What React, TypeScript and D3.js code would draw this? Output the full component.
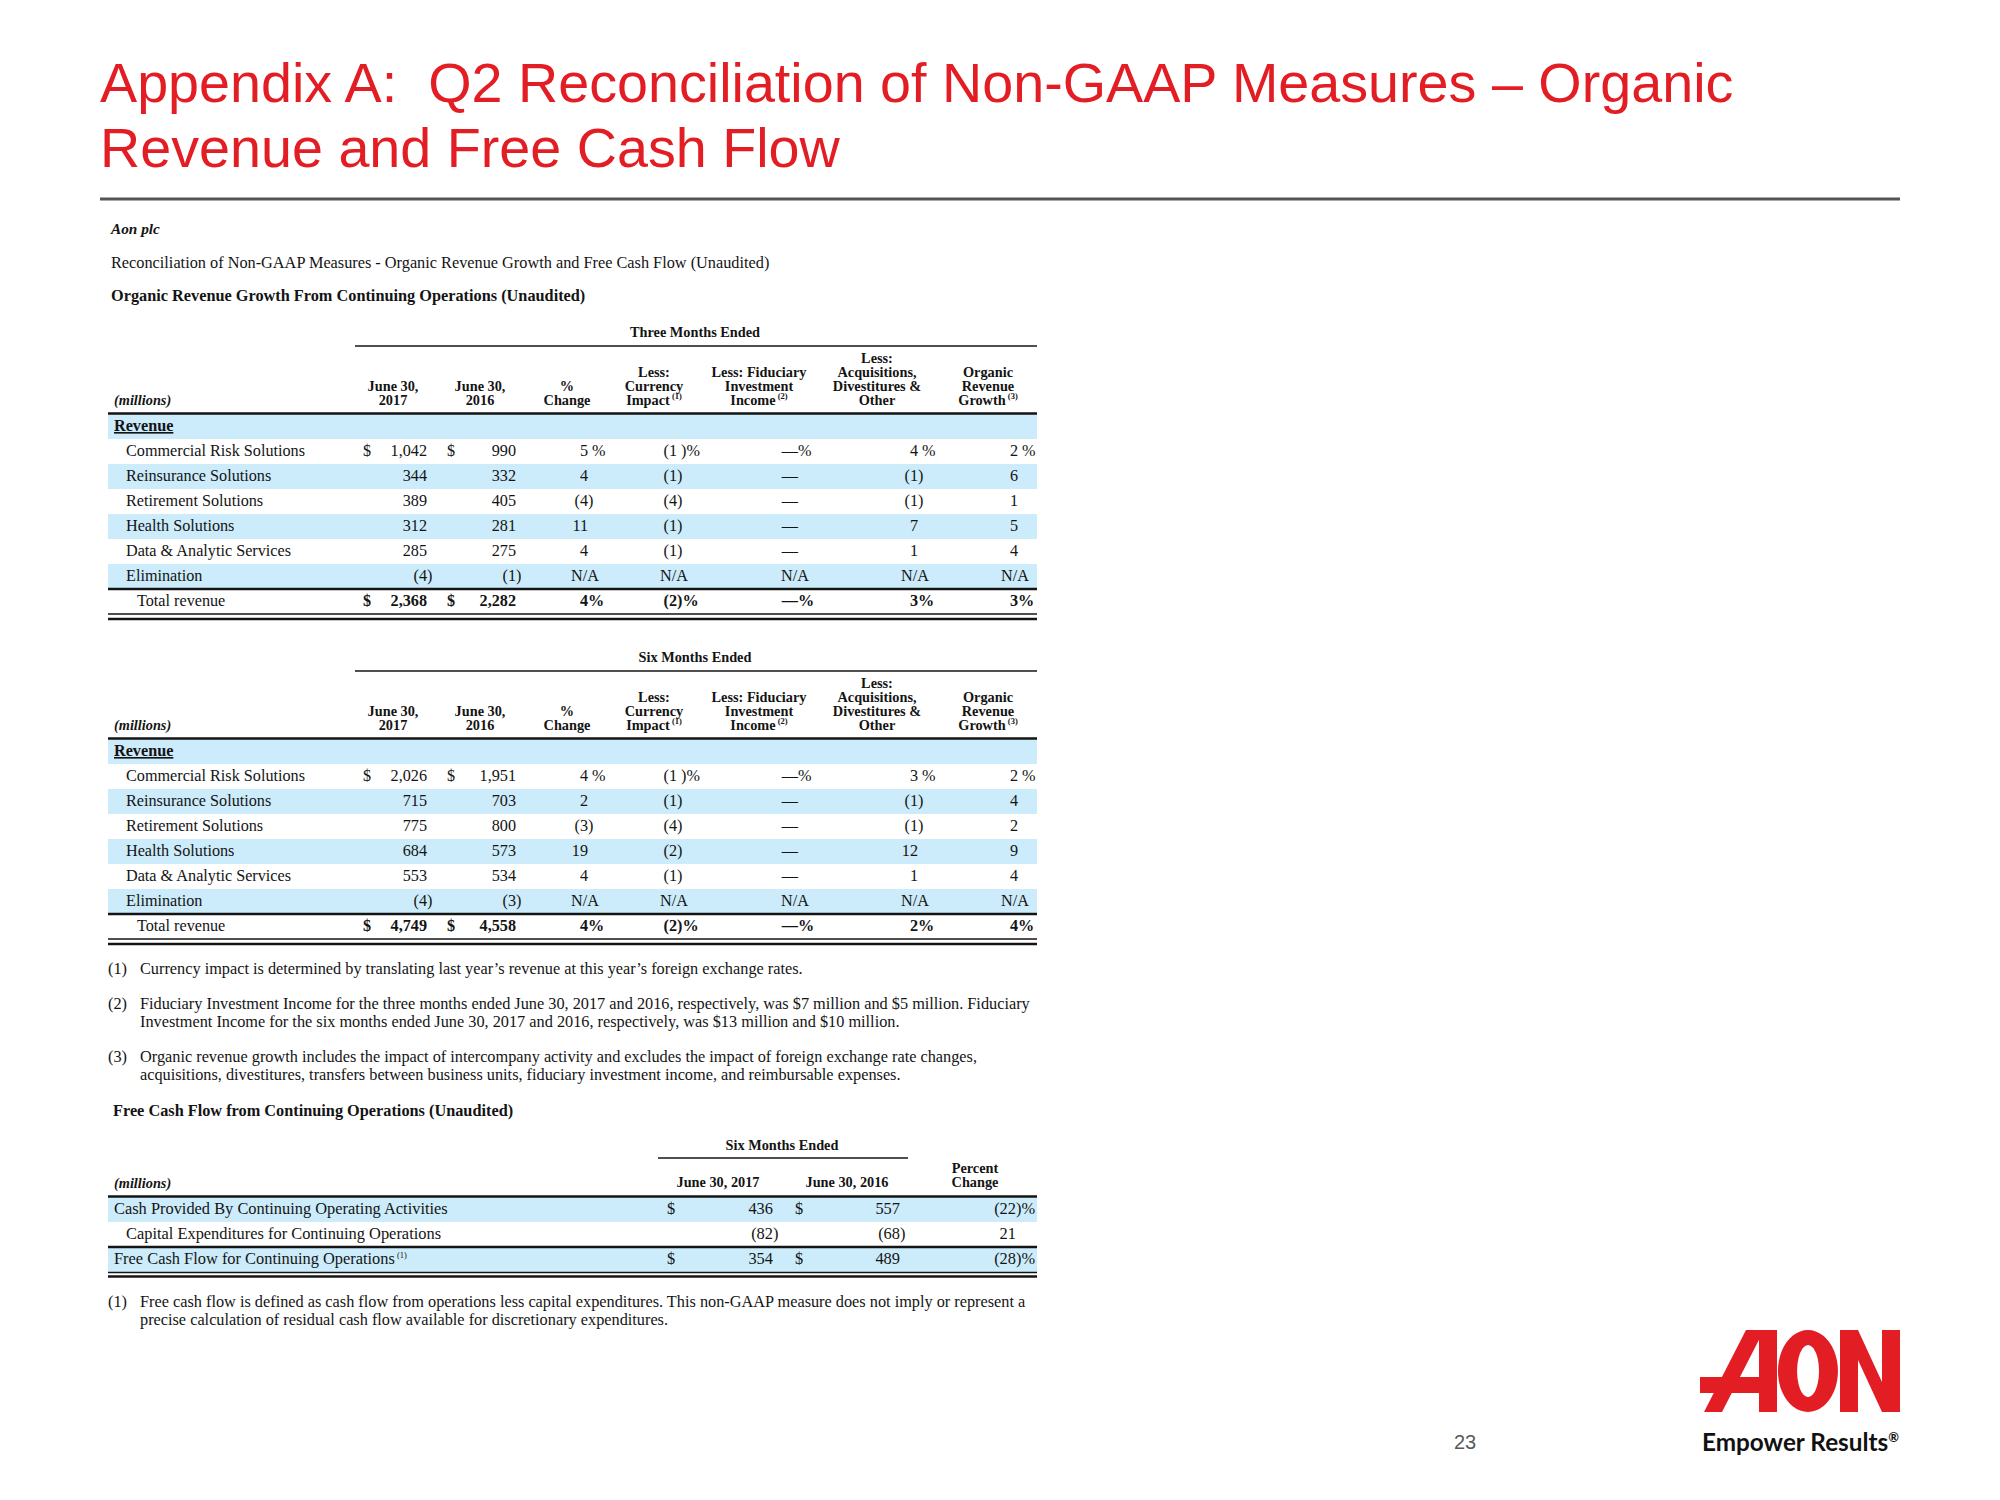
import React from "react";
import * as d3 from "d3";

// ---- data ----
const segments = [
  "Commercial Risk Solutions",
  "Reinsurance Solutions",
  "Retirement Solutions",
  "Health Solutions",
  "Data & Analytic Services",
  "Elimination",
];

// three months ended (last value in each list is the total row)
const q2017 = [1042, 344, 389, 312, 285, -4, 2368];
const q2016 = [990, 332, 405, 281, 275, -1, 2282];
const qChange = [5, 4, -4, 11, 4, null, 4];
const qCurrency = [-1, -1, -4, -1, -1, null, -2];
const qFiduciary = [0, 0, 0, 0, 0, null, 0];
const qAcquisitions = [4, -1, -1, 7, 1, null, 3];
const qOrganic = [2, 6, 1, 5, 4, null, 3];

// six months ended
const h2017 = [2026, 715, 775, 684, 553, -4, 4749];
const h2016 = [1951, 703, 800, 573, 534, -3, 4558];
const hChange = [4, 2, -3, 19, 4, null, 4];
const hCurrency = [-1, -1, -4, -2, -1, null, -2];
const hFiduciary = [0, 0, 0, 0, 0, null, 0];
const hAcquisitions = [3, -1, -1, 12, 1, null, 2];
const hOrganic = [2, 4, 2, 9, 4, null, 4];

const revHeaders = [
  ["June 30,", "2017"],
  ["June 30,", "2016"],
  ["%", "Change"],
  ["Less:", "Currency", "Impact|1"],
  ["Less: Fiduciary", "Investment", "Income|2"],
  ["Less:", "Acquisitions,", "Divestitures &", "Other"],
  ["Organic", "Revenue", "Growth|3"],
];

const fcfLabels = [
  "Cash Provided By Continuing Operating Activities",
  "Capital Expenditures for Continuing Operations",
  "Free Cash Flow for Continuing Operations",
];
const fcf2017 = [436, -82, 354];
const fcf2016 = [557, -68, 489];
const fcfChange = [-22, 21, -28];

const footnotes = [
  ["(1)", ["Currency impact is determined by translating last year\u2019s revenue at this year\u2019s foreign exchange rates."]],
  ["(2)", [
    "Fiduciary Investment Income for the three months ended June 30, 2017 and 2016, respectively, was $7 million and $5 million. Fiduciary",
    "Investment Income for the six months ended June 30, 2017 and 2016, respectively, was $13 million and $10 million.",
  ]],
  ["(3)", [
    "Organic revenue growth includes the impact of intercompany activity and excludes the impact of foreign exchange rate changes,",
    "acquisitions, divestitures, transfers between business units, fiduciary investment income, and reimbursable expenses.",
  ]],
];
const fcfNote = [
  "Free cash flow is defined as cash flow from operations less capital expenditures. This non-GAAP measure does not imply or represent a",
  "precise calculation of residual cash flow available for discretionary expenditures.",
];

// ---- styles ----
const RED = "#e31d24";
const BAND = "#ccecfb";
const INK = "#141414";
const SERIF = "'Liberation Serif', 'Times New Roman', serif";
const SANS = "'Liberation Sans', Arial, sans-serif";
const NOTE = 16.3;
const fmt = d3.format(",");

const colKeys = ["v2017", "v2016", "change", "currency", "fiduciary", "acq", "organic"];
const colRight = d3.scaleOrdinal<string, number>().domain(colKeys).range([427, 516, 588, 677, 798, 918, 1018]);
const colCenter = d3.scaleOrdinal<string, number>().domain(colKeys).range([393, 480, 567, 654, 759, 877, 988]);

function Sup({ n }: { n: string }) {
  return (
    <tspan fontSize={8.5} dy={-6}>
      {` (${n})`}
    </tspan>
  );
}

function HeaderLine({ s, x, y }: { s: string; x: number; y: number }) {
  const [t, n] = s.split("|");
  return (
    <text x={x} y={y} textAnchor="middle" fontWeight="bold" fontSize={14.3}>
      {t}
      {n && <Sup n={n} />}
    </text>
  );
}

function Cell({ v, kind, pos, R }: { v: number | null; kind: string; pos: string; R: number }) {
  if (v === null) {
    return (
      <text x={R + 11} textAnchor="end">
        N/A
      </text>
    );
  }
  let core: string;
  let suffix = "";
  let gap = 0;
  if (kind === "money") {
    core = v < 0 ? `(${fmt(-v)}` : fmt(v);
    if (v < 0) suffix = ")";
  } else {
    core = v === 0 ? "\u2014" : v < 0 ? `(${-v}` : `${v}`;
    if (v < 0) suffix = ")";
    if (pos === "first") {
      if (v !== 0) gap = 4;
      suffix += "%";
    } else if (pos === "total") suffix += "%";
  }
  return (
    <g>
      <text x={R} textAnchor="end">
        {core}
      </text>
      {suffix && (
        <text x={R + gap} textAnchor="start">
          {suffix}
        </text>
      )}
    </g>
  );
}

function RevenueTable({ dy, title, cols }: { dy: number; title: string; cols: (number | null)[][] }) {
  const rows = ["Revenue", ...segments, "Total revenue"];
  const y = d3.scaleBand<string>().domain(rows).range([414 + dy, 414 + dy + rows.length * 25]);
  const bh = y.bandwidth();
  const banded = ["Revenue", segments[1], segments[3], segments[5]];
  const left = 108;
  const right = 1037;
  return (
    <g fontFamily={SERIF} fill={INK} fontSize={16.2}>
      <text x={695} y={337 + dy} textAnchor="middle" fontWeight="bold" fontSize={14.3}>
        {title}
      </text>
      <line x1={355} x2={right} y1={346 + dy} y2={346 + dy} stroke={INK} strokeWidth={1.5} />
      {revHeaders.map((lines, i) =>
        lines.map((s, j) => (
          <HeaderLine key={`${i}-${j}`} s={s} x={colCenter(colKeys[i])} y={405 + dy - (lines.length - 1 - j) * 14} />
        ))
      )}
      <text x={114} y={405 + dy} fontStyle="italic" fontWeight="bold" fontSize={14.3}>
        (millions)
      </text>
      {banded.map((r) => (
        <rect key={r} x={left} width={right - left} y={y(r)} height={bh} fill={BAND} />
      ))}
      <line x1={left} x2={right} y1={y("Revenue")! - 0.5} y2={y("Revenue")! - 0.5} stroke={INK} strokeWidth={2.5} />
      <line x1={left} x2={right} y1={y("Total revenue")!} y2={y("Total revenue")!} stroke={INK} strokeWidth={2.5} />
      <line x1={left} x2={right} y1={y("Total revenue")! + bh} y2={y("Total revenue")! + bh} stroke={INK} strokeWidth={1.5} />
      <line x1={left} x2={right} y1={y("Total revenue")! + bh + 5} y2={y("Total revenue")! + bh + 5} stroke={INK} strokeWidth={2.5} />
      <text x={114} y={y("Revenue")! + 17} fontWeight="bold" style={{ textDecoration: "underline" }}>
        Revenue
      </text>
      {rows.slice(1).map((r, i) => {
        const isTotal = i === rows.length - 2;
        const pos = i === 0 ? "first" : isTotal ? "total" : "mid";
        const by = y(r)! + 17;
        return (
          <g key={r} transform={`translate(0,${by})`} fontWeight={isTotal ? "bold" : "normal"}>
            <text x={isTotal ? 137 : 126} fontWeight="normal">
              {r}
            </text>
            {(pos === "first" || isTotal) && (
              <g>
                <text x={363}>$</text>
                <text x={447}>$</text>
              </g>
            )}
            {cols.map((c, k) => (
              <Cell key={k} v={c[i]} kind={k < 2 ? "money" : "pct"} pos={pos} R={colRight(colKeys[k])} />
            ))}
          </g>
        );
      })}
    </g>
  );
}

function FcfTable() {
  const y = d3.scaleBand<string>().domain(fcfLabels).range([1197, 1272]);
  const bh = y.bandwidth();
  const left = 108;
  const right = 1037;
  return (
    <g fontFamily={SERIF} fill={INK} fontSize={16.4}>
      <text x={113} y={1116} fontWeight="bold" fontSize={NOTE}>
        Free Cash Flow from Continuing Operations (Unaudited)
      </text>
      <text x={782} y={1150} textAnchor="middle" fontWeight="bold" fontSize={14.3}>
        Six Months Ended
      </text>
      <line x1={658} x2={908} y1={1158} y2={1158} stroke={INK} strokeWidth={1.5} />
      <text x={718} y={1187} textAnchor="middle" fontWeight="bold" fontSize={14.3}>
        June 30, 2017
      </text>
      <text x={847} y={1187} textAnchor="middle" fontWeight="bold" fontSize={14.3}>
        June 30, 2016
      </text>
      <text x={975} y={1173} textAnchor="middle" fontWeight="bold" fontSize={14.3}>
        Percent
      </text>
      <text x={975} y={1187} textAnchor="middle" fontWeight="bold" fontSize={14.3}>
        Change
      </text>
      <text x={114} y={1188} fontStyle="italic" fontWeight="bold" fontSize={14.3}>
        (millions)
      </text>
      {[fcfLabels[0], fcfLabels[2]].map((r) => (
        <rect key={r} x={left} width={right - left} y={y(r)} height={bh} fill={BAND} />
      ))}
      <line x1={left} x2={right} y1={y(fcfLabels[0])! - 0.5} y2={y(fcfLabels[0])! - 0.5} stroke={INK} strokeWidth={2.5} />
      <line x1={left} x2={right} y1={y(fcfLabels[2])!} y2={y(fcfLabels[2])!} stroke={INK} strokeWidth={2.5} />
      <line x1={left} x2={right} y1={y(fcfLabels[2])! + bh + 0.5} y2={y(fcfLabels[2])! + bh + 0.5} stroke={INK} strokeWidth={1.5} />
      <line x1={left} x2={right} y1={y(fcfLabels[2])! + bh + 4.5} y2={y(fcfLabels[2])! + bh + 4.5} stroke={INK} strokeWidth={2.5} />
      {fcfLabels.map((r, i) => (
        <g key={r} transform={`translate(0,${y(r)! + 17})`}>
          <text x={i === 1 ? 126 : 114}>
            {r}
            {i === 2 && <Sup n="1" />}
          </text>
          {i !== 1 && (
            <g>
              <text x={667}>$</text>
              <text x={795}>$</text>
            </g>
          )}
          <Cell v={fcf2017[i]} kind="money" pos="mid" R={773} />
          <Cell v={fcf2016[i]} kind="money" pos="mid" R={900} />
          <text x={1016} textAnchor="end">
            {fcfChange[i] < 0 ? `(${-fcfChange[i]}` : fcfChange[i]}
          </text>
          {fcfChange[i] < 0 && <text x={1016}>)%</text>}
        </g>
      ))}
      <g fontSize={NOTE}>
        <text x={108} y={1307}>
          (1)
        </text>
        {fcfNote.map((t, j) => (
          <text key={j} x={140} y={1307 + j * 18}>
            {t}
          </text>
        ))}
      </g>
    </g>
  );
}

function AonLogo() {
  // wordmark drawn in a 200 x 82 box
  return (
    <g transform="translate(1700,1330)" fill={RED}>
      <path d="M46,0 L64,0 L22,82 L4,82 Z M59,0 L77,0 L77,82 L59,82 Z M0,47 L77,47 L77,63 L0,63 Z" />
      <path
        fillRule="evenodd"
        d="M108,0 A30,41 0 1 1 107.9,0 Z M108,15 A11,26 0 1 0 108.1,15 Z"
      />
      <path d="M140,0 L158,0 L182,52 L182,0 L200,0 L200,82 L182,82 L158,30 L158,82 L140,82 Z" />
    </g>
  );
}

export default function App() {
  return (
    <div>
      <style>{`body{margin:0}`}</style>
      <svg width={2000} height={1500} viewBox="0 0 2000 1500" style={{ display: "block", background: "#fff" }}>
        <rect width={2000} height={1500} fill="#fff" />
        <g fontFamily={SANS} fill={RED} fontSize={55.7}>
          <text x={100} y={102}>
            Appendix A:{"\u00a0 "}Q2 Reconciliation of Non-GAAP Measures {"\u2013"} Organic
          </text>
          <text x={100} y={167}>
            Revenue and Free Cash Flow
          </text>
        </g>
        <line x1={100} x2={1900} y1={199} y2={199} stroke="#555" strokeWidth={3} />

        <g fontFamily={SERIF} fill={INK}>
          <text x={111} y={234} fontStyle="italic" fontWeight="bold" fontSize={15.3}>
            Aon plc
          </text>
          <text x={111} y={268} fontSize={NOTE}>
            Reconciliation of Non-GAAP Measures - Organic Revenue Growth and Free Cash Flow (Unaudited)
          </text>
          <text x={111} y={301} fontWeight="bold" fontSize={NOTE}>
            Organic Revenue Growth From Continuing Operations (Unaudited)
          </text>
        </g>

        <RevenueTable
          dy={0}
          title="Three Months Ended"
          cols={[q2017, q2016, qChange, qCurrency, qFiduciary, qAcquisitions, qOrganic]}
        />
        <RevenueTable
          dy={325}
          title="Six Months Ended"
          cols={[h2017, h2016, hChange, hCurrency, hFiduciary, hAcquisitions, hOrganic]}
        />

        <g fontFamily={SERIF} fill={INK} fontSize={NOTE}>
          {footnotes.map(([m, lines], i) => {
            const base = [974, 1009, 1062][i];
            return (
              <g key={i}>
                <text x={108} y={base}>
                  {m as string}
                </text>
                {(lines as string[]).map((t, j) => (
                  <text key={j} x={140} y={base + j * 18}>
                    {t}
                  </text>
                ))}
              </g>
            );
          })}
        </g>

        <FcfTable />

        <text x={1465} y={1449} fontFamily={SANS} fontSize={20} fill="#595959" textAnchor="middle">
          23
        </text>
        <AonLogo />
        <text x={1702} y={1451} fontFamily="Lato, 'Open Sans', sans-serif" fontWeight="bold" fontSize={24.3} fill="#111">
          Empower Results
          <tspan fontSize={13} dy={-9}>
            ®
          </tspan>
        </text>
      </svg>
    </div>
  );
}
